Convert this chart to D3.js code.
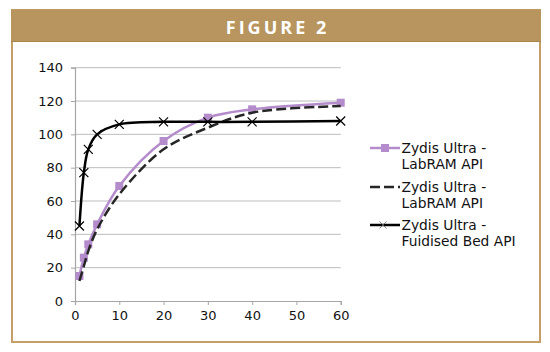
<!DOCTYPE html>
<html>
<head>
<meta charset="utf-8">
<script src="https://cdn.jsdelivr.net/npm/d3@7"></script>
<style>
  body { margin: 0; background: #fff; }
  svg { display: block; }
</style>
</head>
<body>
<div id="chart"></div>
<script>
const times = [1, 2, 3, 5, 10, 20, 30, 40, 60];
const labramA = [15, 26, 34, 46, 69, 96, 110, 115, 119];
const labramB = [12, 21, 30, 43, 64, 91, 104, 113, 117];
const fluidBed = [45, 77, 91, 100, 106, 107.5, 107.5, 107.5, 108];
const seriesNames = ["Zydis Ultra - LabRAM API", "Zydis Ultra - LabRAM API", "Zydis Ultra - Fuidised Bed API"];
const xTicks = [0, 10, 20, 30, 40, 50, 60];
const yTicks = [0, 20, 40, 60, 80, 100, 120, 140];

const width = 550;
const height = 352;
const plot = { l: 75, r: 340.7, t: 67.7, b: 301 };
const font = "DejaVu Sans, Verdana, sans-serif";

const svg = d3.select("#chart").append("svg")
  .attr("width", width)
  .attr("height", height);

// frame + header band
svg.append("rect")
  .attr("x", 12).attr("y", 10)
  .attr("width", 528).attr("height", 332)
  .attr("fill", "#fff")
  .attr("stroke", "#c59d66")
  .attr("stroke-width", 2);

svg.append("rect")
  .attr("x", 11).attr("y", 9.5)
  .attr("width", 530).attr("height", 32)
  .attr("fill", "#b8955f");

svg.append("line")
  .attr("x1", 11).attr("x2", 541)
  .attr("y1", 41.5).attr("y2", 41.5)
  .attr("stroke", "#a9854f")
  .attr("stroke-width", 1);

svg.append("text")
  .attr("x", 277.5).attr("y", 27)
  .attr("text-anchor", "middle")
  .attr("dominant-baseline", "central")
  .attr("fill", "#fff")
  .attr("font-family", "Open Sans, sans-serif")
  .attr("font-weight", "bold")
  .attr("font-size", "18px")
  .attr("letter-spacing", "3px")
  .text("FIGURE 2");

const x = d3.scaleLinear().domain([0, 60]).range([plot.l, plot.r]);
const y = d3.scaleLinear().domain([0, 140]).range([plot.b, plot.t]);

// gridlines
svg.append("g")
  .selectAll("line")
  .data(yTicks.filter((d) => d > 0))
  .enter()
  .append("line")
  .attr("x1", plot.l).attr("x2", plot.r)
  .attr("y1", (d) => y(d)).attr("y2", (d) => y(d))
  .attr("stroke", "#bcbcbc")
  .attr("stroke-width", 1);

const xAxis = svg.append("g")
  .attr("transform", `translate(0, ${plot.b})`)
  .call(d3.axisBottom(x).tickValues(xTicks).tickSize(4).tickPadding(6));

const yAxis = svg.append("g")
  .attr("transform", `translate(${plot.l}, 0)`)
  .call(d3.axisLeft(y).tickValues(yTicks).tickSize(4).tickPadding(8));

[xAxis, yAxis].forEach((ax) => {
  ax.select(".domain").attr("stroke", "#a6a6a6").attr("stroke-width", 1.2);
  ax.selectAll(".tick line").attr("stroke", "#a6a6a6");
  ax.selectAll("text")
    .attr("fill", "#111")
    .style("font-family", font)
    .style("font-size", "13px");
});

const line = (vals) =>
  d3.line()
    .x((d, i) => x(times[i]))
    .y((d) => y(d))
    .curve(d3.curveCatmullRom.alpha(0.5))(vals);

// purple squares series
svg.append("path")
  .attr("d", line(labramA))
  .attr("fill", "none")
  .attr("stroke", "#b48ccb")
  .attr("stroke-width", 2.5);

svg.append("g")
  .selectAll("rect")
  .data(labramA)
  .enter()
  .append("rect")
  .attr("x", (d, i) => x(times[i]) - 4)
  .attr("y", (d) => y(d) - 4)
  .attr("width", 8).attr("height", 8)
  .attr("fill", "#b48ccb");

// dashed series
svg.append("path")
  .attr("d", line(labramB))
  .attr("fill", "none")
  .attr("stroke", "#262626")
  .attr("stroke-width", 2.5)
  .attr("stroke-dasharray", "10,4");

// fluidised bed series
svg.append("path")
  .attr("d", line(fluidBed))
  .attr("fill", "none")
  .attr("stroke", "#000")
  .attr("stroke-width", 2.5);

const cross = (g, cx, cy, s, col, w) => {
  g.append("path")
    .attr("d", `M${cx - s},${cy - s}L${cx + s},${cy + s}M${cx - s},${cy + s}L${cx + s},${cy - s}`)
    .attr("stroke", col)
    .attr("stroke-width", w)
    .attr("fill", "none");
};

const crosses = svg.append("g");
fluidBed.forEach((d, i) => cross(crosses, x(times[i]), y(d), 4.5, "#000", 1.2));

// legend
const legend = svg.append("g");
const legendY = [148, 187, 225];
const lx1 = 370, lx2 = 400;

legendY.forEach((ly, i) => {
  const g = legend.append("g");
  if (i === 0) {
    g.append("line").attr("x1", lx1).attr("x2", lx2).attr("y1", ly).attr("y2", ly)
      .attr("stroke", "#b48ccb").attr("stroke-width", 2.5);
    g.append("rect").attr("x", 381).attr("y", ly - 4).attr("width", 8).attr("height", 8)
      .attr("fill", "#b48ccb");
  } else if (i === 1) {
    g.append("line").attr("x1", lx1).attr("x2", lx2).attr("y1", ly).attr("y2", ly)
      .attr("stroke", "#262626").attr("stroke-width", 2.5).attr("stroke-dasharray", "10,4");
  } else {
    g.append("line").attr("x1", lx1).attr("x2", lx2).attr("y1", ly).attr("y2", ly)
      .attr("stroke", "#000").attr("stroke-width", 2.5);
    cross(g, 383, ly, 3.5, "#666", 0.8);
  }
  const parts = seriesNames[i].split(" - ");
  const t = g.append("text")
    .attr("x", 401.5).attr("y", ly)
    .attr("fill", "#111")
    .style("font-family", font)
    .style("font-size", "13.8px");
  t.append("tspan").attr("x", 401.5).attr("dy", "0.35em").text(parts[0] + " -");
  t.append("tspan").attr("x", 401.5).attr("dy", "16px").text(parts[1]);
});
</script>
</body>
</html>
